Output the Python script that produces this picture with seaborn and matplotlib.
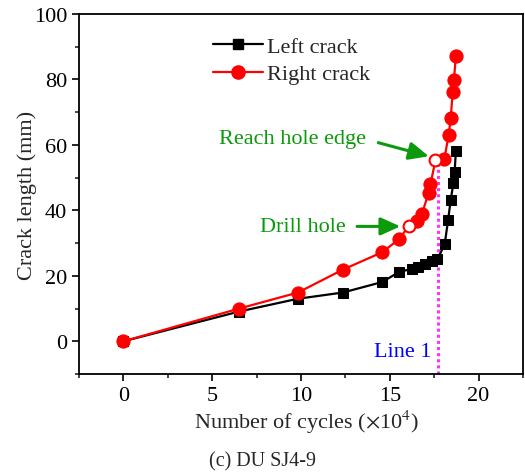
import numpy as np
import pandas as pd
import seaborn as sns
import matplotlib
matplotlib.use("Agg")
import matplotlib.pyplot as plt
from matplotlib.lines import Line2D
from matplotlib.ticker import MultipleLocator

# Data (cycles in 1e4, crack length in mm)
left_x = [0, 6.52, 9.83, 12.36, 14.57, 15.5, 16.25, 16.6, 17.0, 17.38, 17.67, 18.09, 18.28, 18.43, 18.58, 18.65, 18.72]
left_y = [0, 9.1, 13.0, 14.9, 18.1, 21.1, 22.2, 22.8, 23.5, 24.5, 25.0, 29.6, 37.0, 43.2, 48.3, 51.7, 58.2]

right_x = [0, 6.52, 9.83, 12.36, 14.57, 15.5, 16.07, 16.54, 16.8, 17.19, 17.29, 17.57, 18.07, 18.31, 18.43, 18.54, 18.61, 18.72]
right_y = [0, 10.0, 14.9, 21.9, 27.2, 31.1, 35.2, 36.7, 38.8, 45.4, 48.0, 55.3, 55.6, 63.0, 68.1, 76.2, 79.9, 87.2]
hollow_idx = [6, 11]

line1_x = 17.71
line1_top = 54.7

sns.set_theme(style="white")
plt.rcParams['font.family'] = ['Liberation Serif', 'DejaVu Serif']
plt.rcParams['mathtext.fontset'] = 'stix'

FS = 16

fig = plt.figure(figsize=(5.25, 4.77), dpi=100)
ax = fig.add_axes([0.1505, 0.2138, 0.8457, 0.7548])

df_l = pd.DataFrame({"x": left_x, "y": left_y})
df_r = pd.DataFrame({"x": right_x, "y": right_y})

filled_r = [i for i in range(len(right_x)) if i not in hollow_idx]

sns.lineplot(data=df_l, x="x", y="y", ax=ax, color="black", lw=1.6, marker="s",
             markersize=7.5, markeredgecolor="black", sort=False, estimator=None, zorder=3)
sns.lineplot(data=df_r, x="x", y="y", ax=ax, color="#ff0000", lw=1.6, marker="o",
             markersize=9.5, markeredgecolor="#ff0000", markevery=filled_r,
             sort=False, estimator=None, zorder=4)
hx = [right_x[i] for i in hollow_idx]
hy = [right_y[i] for i in hollow_idx]
ax.plot(hx, hy, linestyle="none", marker="o", markersize=8.5, markerfacecolor="white",
        markeredgecolor="#ff0000", markeredgewidth=1.5, zorder=5)

# Line 1
ax.plot([line1_x, line1_x], [-10, line1_top], color="#ff33ff", lw=2.2, ls=(0, (1, 1)), zorder=2)
ax.text(line1_x - 0.35, -3.2, "Line 1", color="#0000ff", fontsize=FS, ha="right", va="center")

green = "#0c9a0c"
ax.text(9.5, 62, "Reach hole edge", color=green, fontsize=FS, ha="center", va="center")
ax.annotate("", xy=(17.35, 56.3), xytext=(14.2, 60.9),
            arrowprops=dict(arrowstyle="-|>,head_length=1.0,head_width=0.45", color=green, lw=2.2))
ax.text(10.1, 35.1, "Drill hole", color=green, fontsize=FS, ha="center", va="center")
ax.annotate("", xy=(15.75, 35.1), xytext=(13.0, 35.1),
            arrowprops=dict(arrowstyle="-|>,head_length=1.0,head_width=0.45", color=green, lw=2.2))

ax.set_xlim(-2.5, 22.5)
ax.set_ylim(-10, 100)
ax.xaxis.set_major_locator(MultipleLocator(5))
ax.xaxis.set_minor_locator(MultipleLocator(2.5))
ax.yaxis.set_major_locator(MultipleLocator(20))
ax.yaxis.set_minor_locator(MultipleLocator(10))
ax.tick_params(axis="both", which="major", direction="out", length=5, width=1.2,
               labelsize=FS, colors="black", bottom=True, left=True)
ax.tick_params(axis="both", which="minor", direction="out", length=3, width=1.2,
               bottom=True, left=True)
for s in ax.spines.values():
    s.set_color("black")
    s.set_linewidth(1.3)

ax.set_xlabel(r"Number of cycles ($\times$10$^{4}$)", fontsize=FS, labelpad=2)
ax.xaxis.label.set_x(0.512)
ax.set_ylabel("Crack length (mm)", fontsize=FS, labelpad=-2.5)

handles = [
    Line2D([], [], color="black", lw=1.6, marker="s", markersize=7.5),
    Line2D([], [], color="#ff0000", lw=1.6, marker="o", markersize=9.5),
]
ax.legend(handles, ["Left crack", "Right crack"], loc="upper left", bbox_to_anchor=(0.271, 0.974),
          frameon=False, fontsize=FS, handlelength=2.25, handletextpad=0.2, labelspacing=0.3,
          borderaxespad=0.2)

fig.text(0.5, 0.032, "(c) DU SJ4-9", ha="center", va="center", fontsize=14.5)

fig.savefig("out.png", dpi=100)
